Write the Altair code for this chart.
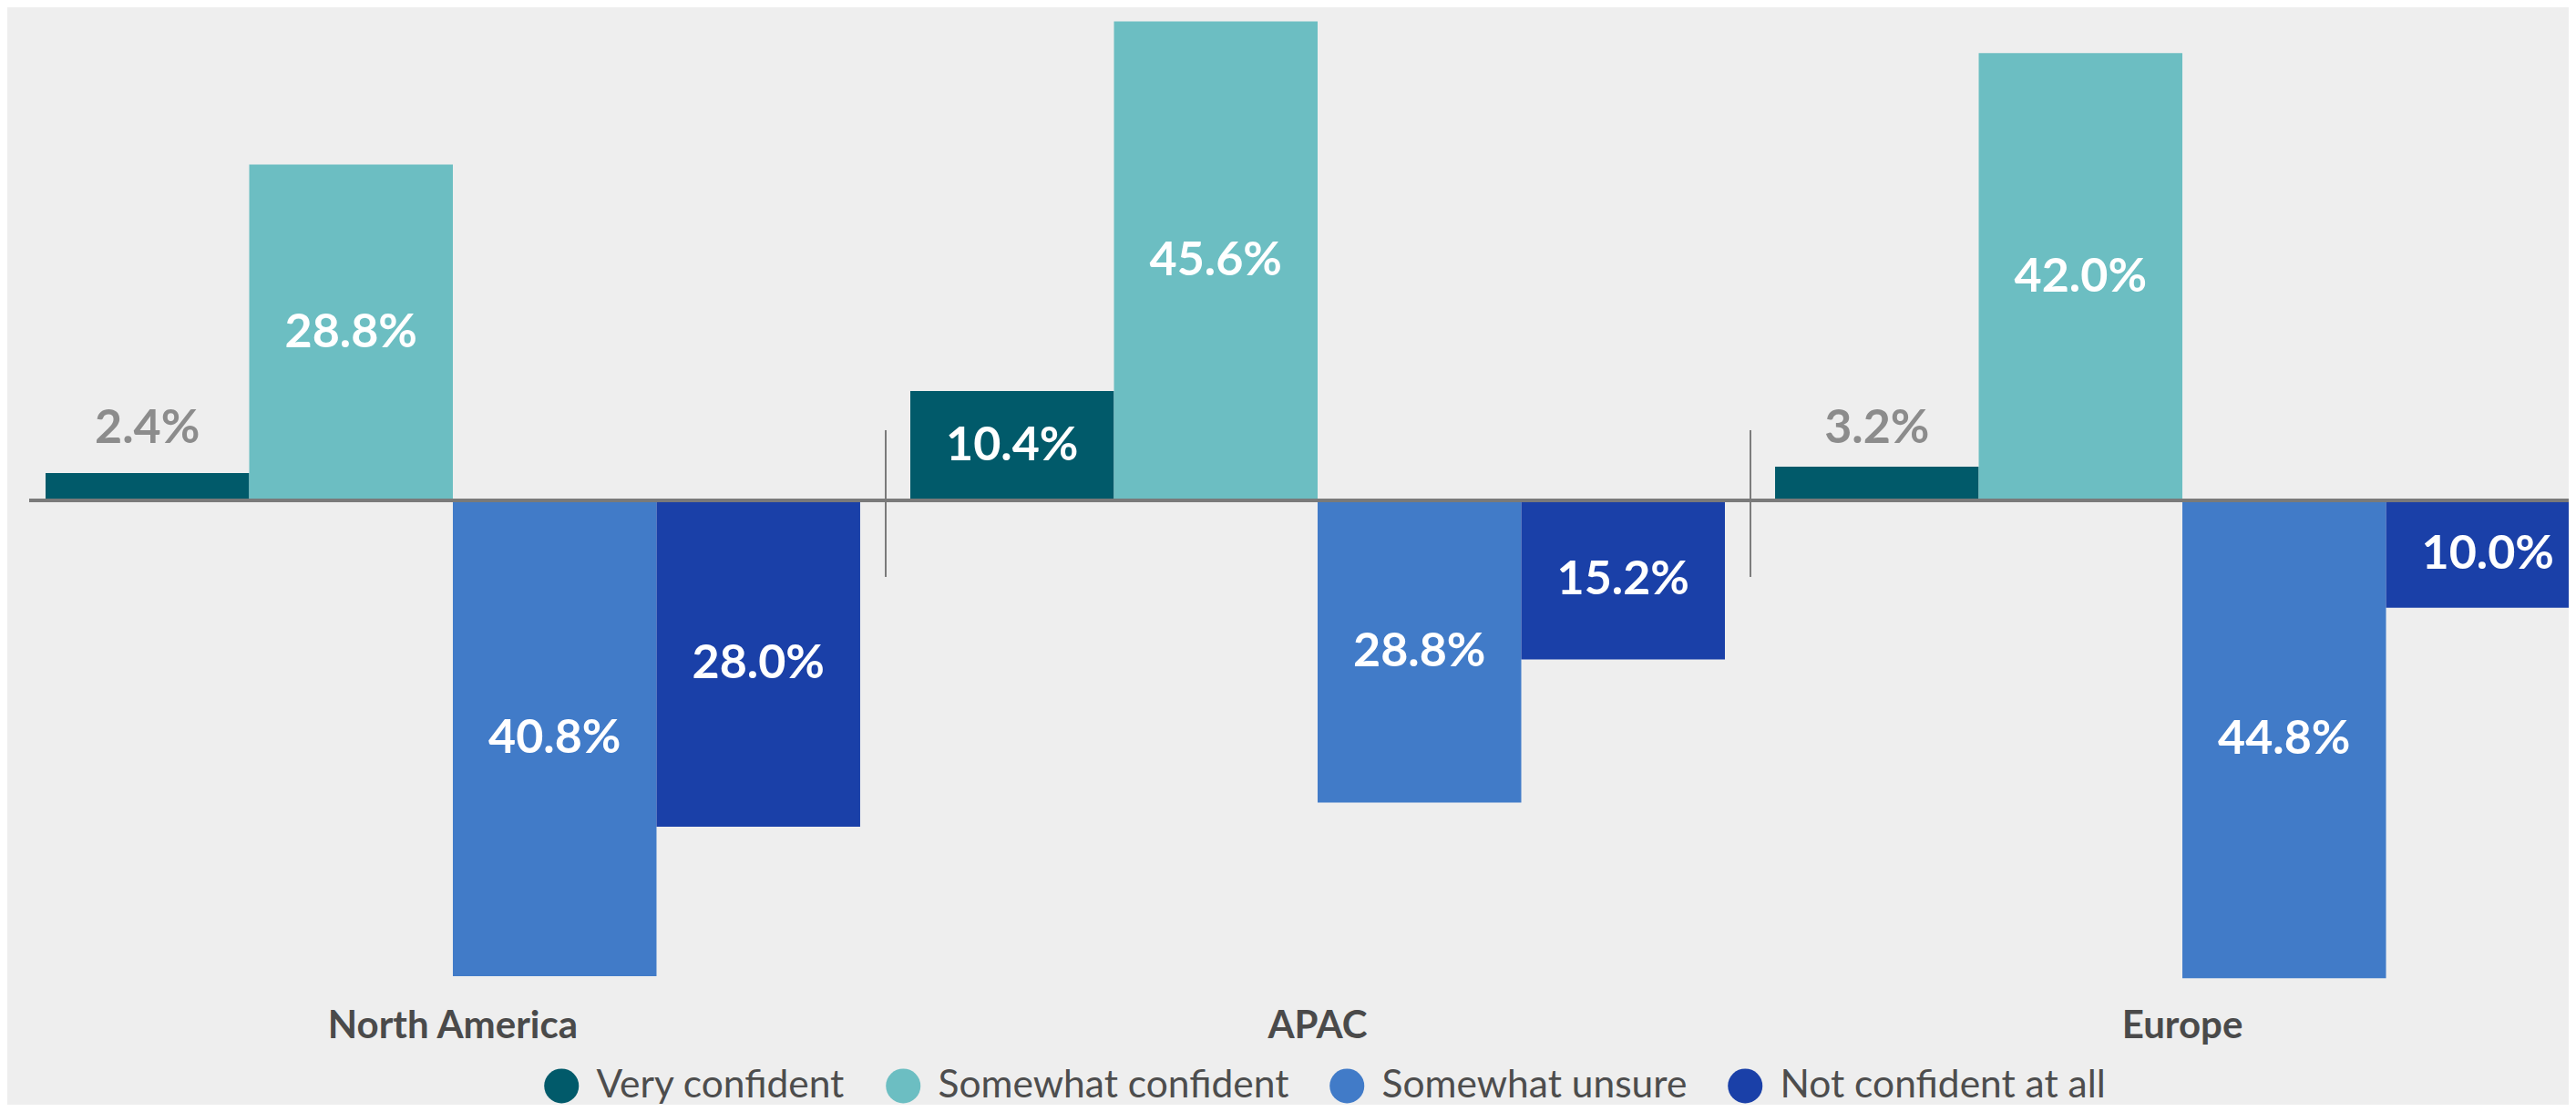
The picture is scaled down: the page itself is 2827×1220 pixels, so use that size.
import altair as alt
import pandas as pd

regions = ["North America", "APAC", "Europe"]
levels = ["Very confident", "Somewhat confident", "Somewhat unsure", "Not confident at all"]
colors = ["#015a6a", "#6cbec2", "#417bc8", "#1a40a8"]

# bar heights as drawn (percent, negative = below baseline)
na_bars = [2.6, 31.9, -45.2, -31.0]
apac_bars = [10.4, 45.5, -28.7, -15.1]
europe_bars = [3.2, 42.5, -45.4, -10.2]

# printed labels (percent)
na_labels = [2.4, 28.8, 40.8, 28.0]
apac_labels = [10.4, 45.6, 28.8, 15.2]
europe_labels = [3.2, 42.0, 44.8, 10.0]

rows = []
for reg, bars, labs in [("North America", na_bars, na_labels),
                        ("APAC", apac_bars, apac_labels),
                        ("Europe", europe_bars, europe_labels)]:
    for lev, b, l in zip(levels, bars, labs):
        rows.append({"region": reg, "level": lev, "value": b, "label": l})
df = pd.DataFrame(rows)
sep_df = pd.DataFrame({"region": ["APAC", "Europe"]})

FONT = "Lato"
ymax = 46.84

xscale = alt.Scale(domain=regions, range=[18, 2810], paddingInner=0.058, paddingOuter=0)
yscale = alt.Scale(domain=[-ymax, ymax], nice=False, zero=False)

base = alt.Chart(df).transform_calculate(
    mid="datum.value / 2",
    txt="format(datum.label, '.1f') + '%'",
    zero="0",
)

X = alt.X("region:N", sort=regions, scale=xscale,
          axis=alt.Axis(title=None, domain=False, ticks=False, labelAngle=0,
                        labelFont=FONT, labelFontSize=42, labelFontWeight="bold",
                        labelColor="#4a4a4a", labelPadding=35, labelBaseline="middle",
                        labelLimit=800))
XO = alt.XOffset("level:N", sort=levels, scale=alt.Scale(domain=levels, paddingInner=0, paddingOuter=0))

bars = base.mark_bar().encode(
    x=X,
    xOffset=XO,
    y=alt.Y("value:Q", scale=yscale, axis=None),
    color=alt.Color("level:N", sort=levels,
                    scale=alt.Scale(domain=levels, range=colors),
                    legend=alt.Legend(title=None, orient="none", direction="horizontal",
                                      legendX=563, legendY=1162, symbolType="circle",
                                      symbolSize=1444, symbolStrokeWidth=0, symbolOpacity=1,
                                      labelFont=FONT, labelFontSize=42.5, labelColor="#4d4d4d",
                                      labelOffset=17, columnPadding=42, padding=0,
                                      labelLimit=800)),
)

inside = base.transform_filter("abs(datum.value) >= 5").mark_text(
    font=FONT, fontSize=52, fontWeight="bold", color="#ffffff", baseline="middle"
).encode(x=X, xOffset=XO, y=alt.Y("mid:Q", scale=yscale), text="txt:N")

outside = base.transform_filter("abs(datum.value) < 5").mark_text(
    font=FONT, fontSize=52, fontWeight="bold", color="#8c8c8c", baseline="middle", dy=-79
).encode(x=X, xOffset=XO, y=alt.Y("zero:Q", scale=yscale), text="txt:N")

zero_line = alt.Chart(df).mark_rule(color="#7a7a7a", strokeWidth=3).encode(
    y=alt.Y("z:Q", scale=yscale)
).transform_calculate(z="0")

seps = alt.Chart(sep_df).mark_rule(color="#7a7a7a", strokeWidth=2, xOffset=-27).encode(
    x=alt.X("region:N", sort=regions, scale=xscale, bandPosition=0),
    y=alt.Y("top:Q", scale=yscale),
    y2="bot:Q",
).transform_calculate(top="6.67", bot="-7.27")

chart = alt.layer(bars, zero_line, seps, inside, outside).properties(
    width=2787, height=1082,
    autosize=alt.AutoSizeParams(type="none"),
    padding={"left": 24, "top": 0, "right": 0, "bottom": 122},
    background="#eeeeee",
).configure_view(strokeWidth=0)

chart.save("out.html", embed_options={"renderer": "svg", "actions": False})
